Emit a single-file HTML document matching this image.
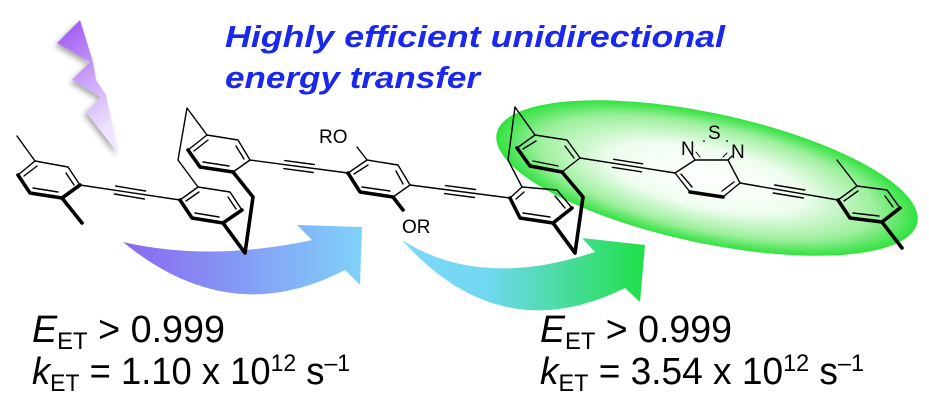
<!DOCTYPE html>
<html><head><meta charset="utf-8"><style>
html,body{margin:0;padding:0;background:#fff;}
svg{display:block;}
</style></head><body>
<svg width="929" height="400" viewBox="0 0 929 400" xmlns="http://www.w3.org/2000/svg">
<defs>
<linearGradient id="bolt" x1="0" y1="0" x2="0.3" y2="1">
<stop offset="0" stop-color="#9a50f2"/><stop offset="1" stop-color="#f0e6ff"/></linearGradient>
<linearGradient id="a1" x1="0" y1="0" x2="1" y2="0">
<stop offset="0" stop-color="#8a66f0"/><stop offset="1" stop-color="#80d2fa"/></linearGradient>
<linearGradient id="a2" x1="0" y1="0" x2="1" y2="0">
<stop offset="0" stop-color="#80d6fa"/><stop offset="0.35" stop-color="#70d8f0"/><stop offset="1" stop-color="#20e048"/></linearGradient>
<radialGradient id="gl" cx="0.5" cy="0.5" r="0.5">
<stop offset="0" stop-color="#ffffff"/><stop offset="0.45" stop-color="#f0fdf0"/><stop offset="0.8" stop-color="#9cef9c"/><stop offset="1" stop-color="#30e23e"/></radialGradient>
<filter id="sh" x="-30%" y="-30%" width="160%" height="160%"><feGaussianBlur in="SourceAlpha" stdDeviation="3"/><feOffset dx="-2" dy="3"/><feComponentTransfer><feFuncA type="linear" slope="0.35"/></feComponentTransfer><feMerge><feMergeNode/><feMergeNode in="SourceGraphic"/></feMerge></filter>
</defs>

<polygon points="80,20 57,43 90,62 72,80 101,97 86,112 118,153 106,95 96,80 93,62 80,20" fill="url(#bolt)" filter="url(#sh)"/>

<g font-family="Liberation Sans, sans-serif" font-weight="bold" font-style="italic" fill="#1a28ee" font-size="31">
<text x="225" y="47" textLength="500" lengthAdjust="spacingAndGlyphs">Highly efficient unidirectional</text>
<text x="225" y="88" textLength="255" lengthAdjust="spacingAndGlyphs">energy transfer</text>
</g>

<ellipse cx="707" cy="178" rx="215" ry="65" transform="rotate(12 707 178)" fill="url(#gl)"/>

<path d="M123,242 Q210,262 312,240 L297,225 L362,227 L360,285 L345,270 Q230,330 123,242 Z" fill="url(#a1)"/>
<path d="M402,240 Q480,290 595,252 L582,238 L645,245 L640,302 L625,288 Q500,350 402,240 Z" fill="url(#a2)"/>

<g stroke="#000" stroke-width="1.4" fill="none" stroke-linecap="round" stroke-linejoin="round">
<polyline points="18,175 35,161 68,167 80,185"/>
<line x1="18" y1="175" x2="30" y2="193"/>
<line x1="35" y1="161" x2="17" y2="136"/>
<line x1="24" y1="176" x2="37" y2="166"/><line x1="33" y1="188" x2="58" y2="192"/><line x1="66" y1="173" x2="74" y2="185"/>
<line x1="80" y1="185" x2="180" y2="200"/>
<line x1="114.4" y1="194" x2="144.4" y2="199"/><line x1="115.6" y1="186" x2="145.6" y2="191"/>
<polyline points="180,200 198,187 230,192 242,210"/>
<line x1="186" y1="201" x2="199" y2="192"/><line x1="228" y1="197" x2="236" y2="209"/><line x1="219" y1="217" x2="195" y2="213"/>
<polyline points="188,150 207,135 238,140 250,160 233,172"/>
<line x1="194" y1="151" x2="208" y2="140"/><line x1="236" y1="146" x2="244" y2="159"/><line x1="229" y1="166" x2="203" y2="162"/>
<polyline points="207,135 187,108 178,160 198,187"/>
<line x1="250" y1="160" x2="348" y2="173"/>
<line x1="283.8" y1="168.6" x2="313.2" y2="172.5"/><line x1="284.8" y1="160.6" x2="314.2" y2="164.5"/>
<polyline points="348,173 367,160 398,165 410,185"/>
<line x1="410" y1="185" x2="393" y2="197"/>
<line x1="354" y1="174" x2="368" y2="165"/><line x1="396" y1="171" x2="403" y2="184"/><line x1="390" y1="191" x2="362" y2="187"/>
<line x1="367" y1="160" x2="357" y2="147"/>
<line x1="410" y1="185" x2="510" y2="198"/>
<line x1="444.5" y1="193.6" x2="474.5" y2="197.5"/><line x1="445.5" y1="185.6" x2="475.5" y2="189.5"/>
<polyline points="510,198 522,187 557,190 572,208"/>
<line x1="516" y1="199" x2="524" y2="192"/><line x1="555" y1="196" x2="565" y2="208"/><line x1="550" y1="217" x2="523" y2="213"/>
<polyline points="517,148 535,135 567,140 580,158 562,172"/>
<line x1="523" y1="149" x2="536" y2="141"/><line x1="565" y1="146" x2="574" y2="158"/><line x1="558" y1="166" x2="533" y2="161"/>
<polyline points="535,135 515,107 508,160 522,187"/>
<line x1="580" y1="158" x2="675" y2="173"/>
<line x1="612.4" y1="167.3" x2="641.4" y2="171.8"/><line x1="613.6" y1="159.3" x2="642.6" y2="163.8"/>
<polyline points="690,192 675,173 695,160 728,160 740,183 723,197"/>
<line x1="681" y1="174" x2="692" y2="187"/><line x1="722" y1="191" x2="734" y2="182"/>
<line x1="695" y1="160" x2="692" y2="155"/><line x1="728" y1="160" x2="732" y2="156"/>
<line x1="700" y1="157" x2="696" y2="152" stroke-width="1"/><line x1="723" y1="157" x2="727" y2="153" stroke-width="1"/>
<line x1="740" y1="183" x2="838" y2="200"/>
<line x1="773.3" y1="193" x2="803.3" y2="198"/><line x1="774.7" y1="185" x2="804.7" y2="190"/>
<polyline points="838,200 857,186 887,190 900,208"/>
<line x1="857" y1="186" x2="837" y2="160"/>
<line x1="844" y1="201" x2="858" y2="191"/><line x1="885" y1="196" x2="893" y2="207"/><line x1="879" y1="216" x2="853" y2="213"/>
</g>
<g stroke="#000" stroke-width="3.6" fill="none" stroke-linecap="round" stroke-linejoin="round">
<polyline points="18,175 30,193 62,198 80,185"/><line x1="62" y1="198" x2="82" y2="223"/>
<polyline points="180,200 192,218 223,223 242,210"/>
<polyline points="188,150 200,167 233,172"/>
<polyline points="233,172 253,197 245,253 223,223"/>
<polyline points="348,173 360,192 393,197 403,210"/>
<polyline points="510,198 520,218 553,223 572,208"/>
<polyline points="517,148 530,166 562,172"/>
<polyline points="562,172 583,197 575,253 553,223"/>
<line x1="690" y1="192" x2="723" y2="197"/>
<polyline points="838,200 850,218 882,222 900,208"/><line x1="882" y1="222" x2="902" y2="248"/>
</g>
<g font-family="Liberation Sans, sans-serif" font-size="19" fill="#000">
<text x="319" y="143">RO</text>
<text x="402" y="233">OR</text>
<text x="681" y="155">N</text>
<text x="708" y="139">S</text>
<text x="731" y="158">N</text>
</g>
<circle cx="704" cy="141" r="0.9"/><circle cx="727" cy="141" r="0.9"/>

<g font-family="Liberation Sans, sans-serif" font-size="38" fill="#000">
<text x="32" y="342" textLength="193" lengthAdjust="spacingAndGlyphs"><tspan font-style="italic">E</tspan><tspan font-size="24" dy="7">ET</tspan><tspan dy="-7"> &gt; 0.999</tspan></text>
<text x="32" y="384" textLength="318" lengthAdjust="spacingAndGlyphs"><tspan font-style="italic">k</tspan><tspan font-size="24" dy="7">ET</tspan><tspan dy="-7"> = 1.10 x 10</tspan><tspan font-size="24" dy="-13">12</tspan><tspan dy="13"> s</tspan><tspan font-size="24" dy="-13">–1</tspan></text>
<text x="540" y="342" textLength="192" lengthAdjust="spacingAndGlyphs"><tspan font-style="italic">E</tspan><tspan font-size="24" dy="7">ET</tspan><tspan dy="-7"> &gt; 0.999</tspan></text>
<text x="540" y="384" textLength="324" lengthAdjust="spacingAndGlyphs"><tspan font-style="italic">k</tspan><tspan font-size="24" dy="7">ET</tspan><tspan dy="-7"> = 3.54 x 10</tspan><tspan font-size="24" dy="-13">12</tspan><tspan dy="13"> s</tspan><tspan font-size="24" dy="-13">–1</tspan></text>
</g>
</svg>
</body></html>
